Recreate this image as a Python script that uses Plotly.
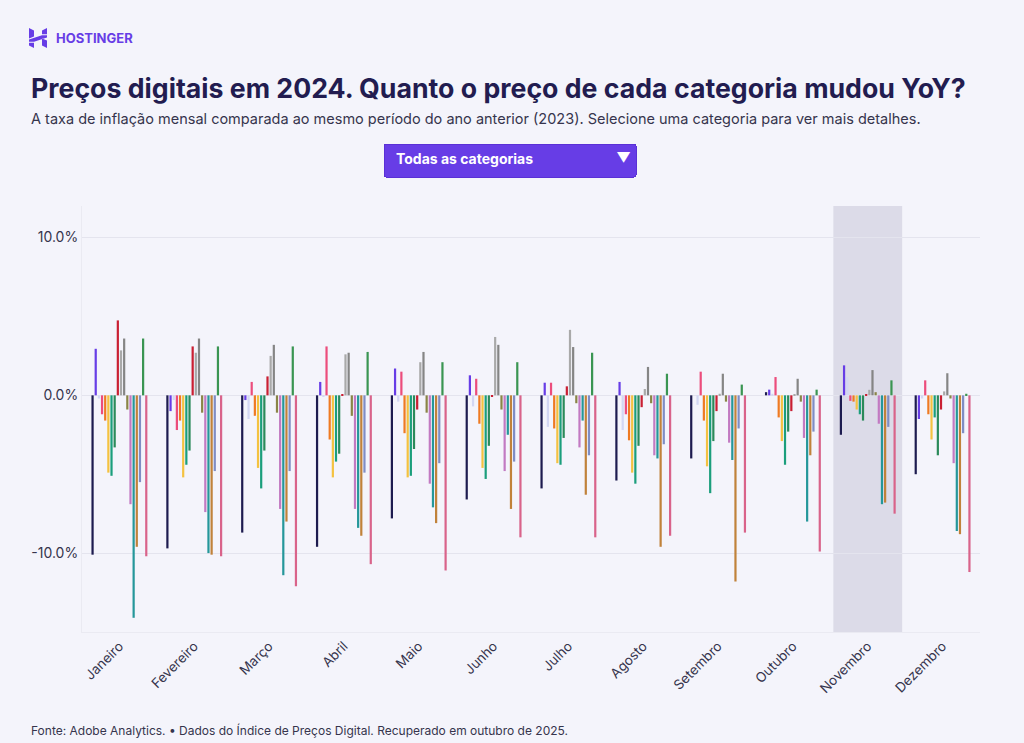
import plotly.graph_objects as go

# months on the x axis
months = ["Janeiro", "Fevereiro", "Março", "Abril", "Maio", "Junho", "Julho",
          "Agosto", "Setembro", "Outubro", "Novembro", "Dezembro"]

# categories (in drawing order) and their colours
categories = [
    "Eletrônicos", "Computadores", "Eletrodomésticos", "Joias", "Vestuário",
    "Mantimentos", "Móveis e roupa de cama", "Ferramentas e reforma da casa",
    "Livros", "Produtos de cuidado pessoal", "Medicamentos sem receita",
    "Produtos para animais", "Artigos esportivos", "Brinquedos",
    "Flores e presentes", "Material de escritório", "Casa e jardim",
    "Equipamentos médicos",
]
colors = [
    "#1d1b4f", "#673de6", "#d3d7f3", "#ec4d7c", "#ef7a22", "#f4c240",
    "#1b9e7c", "#2b8a5a", "#c91f33", "#a9a9a9", "#858585", "#8a8446",
    "#c27ac2", "#25979a", "#c0823a", "#7f8dc4", "#3a9552", "#d9638a",
]

# YoY change in %, one list per category, Jan..Dec
eletronicos = [-10.1, -9.7, -8.7, -9.6, -7.8, -6.6, -5.9, -5.4, -4.0, 0.2, -2.5, -5.0]
computadores = [2.95, -1.0, -0.3, 0.85, 1.7, 1.27, 0.8, 0.85, 0.0, 0.36, 1.9, -1.5]
eletrodomesticos = [-0.2, -0.3, -1.5, -0.1, -0.4, -0.7, -2.0, -2.2, -0.6, 0.1, 1.15, -0.2]
joias = [-1.2, -2.2, 0.85, 3.1, 1.5, 1.05, 0.8, -1.2, 1.5, 1.16, -0.35, 0.95]
vestuario = [-1.6, -1.6, -1.3, -2.8, -2.4, -1.8, -2.1, -2.85, -1.6, -1.4, -0.4, -1.2]
mantimentos = [-4.9, -5.2, -4.6, -5.2, -5.2, -4.6, -4.3, -4.9, -4.5, -2.9, -0.9, -2.8]
moveis = [-5.1, -4.4, -5.9, -4.2, -5.1, -5.3, -4.4, -5.6, -6.2, -4.4, -1.2, -1.4]
ferramentas = [-3.3, -3.5, -3.5, -3.7, -3.4, -3.2, -2.7, -3.2, -2.9, -2.3, -1.6, -3.8]
livros = [4.75, 3.1, 1.2, 0.05, -0.9, -0.1, 0.57, -0.75, -1.0, -1.0, 0.05, -0.9]
cuidado_pessoal = [2.85, 2.7, 2.5, 2.6, 2.1, 3.7, 4.15, 0.4, 0.1, 0.05, 0.35, 0.25]
medicamentos = [3.6, 3.6, 3.2, 2.7, 2.75, 3.2, 3.06, 1.8, 1.37, 1.05, 1.6, 1.4]
animais = [-0.9, -1.1, -1.1, -1.3, -1.1, -0.9, -0.5, -0.5, -0.4, -0.4, 0.2, -0.2]
esportivos = [-6.9, -7.4, -7.2, -7.2, -5.6, -4.8, -3.3, -3.8, -3.0, -2.7, -1.8, -4.3]
brinquedos = [-14.1, -10.0, -11.4, -8.4, -7.1, -2.5, -1.6, -4.0, -4.1, -8.0, -6.9, -8.6]
flores = [-9.6, -10.1, -8.0, -8.9, -8.1, -7.2, -6.3, -9.6, -11.8, -3.8, -6.8, -8.8]
escritorio = [-5.5, -4.8, -4.8, -4.9, -4.3, -4.2, -3.8, -3.1, -2.1, -2.3, -2.0, -2.4]
casa_jardim = [3.6, 3.1, 3.1, 2.75, 2.1, 2.1, 2.7, 1.37, 0.68, 0.36, 0.95, 0.1]
equip_medicos = [-10.2, -10.2, -12.1, -10.7, -11.1, -9.0, -9.0, -8.9, -8.7, -9.9, -7.5, -11.2]

series = [eletronicos, computadores, eletrodomesticos, joias, vestuario,
          mantimentos, moveis, ferramentas, livros, cuidado_pessoal,
          medicamentos, animais, esportivos, brinquedos, flores, escritorio,
          casa_jardim, equip_medicos]

# y axis ticks
y_ticks = [-10, 0, 10]
y_tick_labels = ["-10.0%", "0.0%", "10.0%"]

highlight_month = "Novembro"

W, H = 1024, 743
ML, MR, MT, MB = 82, 44, 206, 111
PURPLE = "#673de6"
DARK = "#221c50"
TEXT = "#36344d"
BG = "#f4f4fb"
FONT = "Inter"


def px_x(px):
    return (px - ML) / (W - ML - MR)


def px_y(py):
    return (H - MB - py) / (H - MT - MB)


fig = go.Figure()
for name, vals, col in zip(categories, series, colors):
    fig.add_trace(go.Bar(
        x=months, y=vals, name=name, marker_color=col, marker_line_width=0,
        hovertemplate="%{x}<br>" + name + ": %{y:.1f}%<extra></extra>",
    ))

# dropdown: all categories or a single one
n = len(categories)
buttons = [dict(label="Todas as categorias", method="restyle",
                args=[{"visible": [True] * n}])]
for i, name in enumerate(categories):
    buttons.append(dict(label=name, method="restyle",
                        args=[{"visible": [j == i for j in range(n)]}]))

hi = months.index(highlight_month)

# Hostinger logo (pixel path relative to its top-left corner)
logo_path = ("M0,0 L5,-2.6 L5,-8.4 L0,-10.6 Z "
             "M13,-2.4 L18,0 L18,-6.2 L13,-6.2 Z "
             "M0,-11.6 L13,-7.2 L18,-7.2 L18,-9.4 L5,-13.8 L0,-13.8 Z "
             "M0,-14.8 L5,-14.8 L5,-20 L0,-17.6 Z "
             "M13,-10.4 L18,-12.6 L18,-20 L13,-17.6 Z")

fig.update_layout(
    width=W, height=H,
    margin=dict(l=ML, r=MR, t=MT, b=MB),
    paper_bgcolor=BG, plot_bgcolor=BG,
    font=dict(family=FONT, color=TEXT, size=13),
    barmode="group", bargap=0.24, bargroupgap=0.3,
    showlegend=False, hovermode="closest",
    xaxis=dict(
        tickangle=-45, tickfont=dict(size=13.5, color=TEXT),
        showgrid=False, showline=True, linecolor="#eaeaf2", ticks="",
        range=[-0.5, len(months) - 0.5],
    ),
    yaxis=dict(
        range=[-15, 12], tickvals=y_ticks, ticktext=y_tick_labels,
        tickfont=dict(size=14, color=TEXT), gridcolor="#e4e4ee", gridwidth=1,
        zeroline=True, zerolinecolor="#e4e4ee", zerolinewidth=1,
        showline=True, linecolor="#eaeaf2",
    ),
    shapes=[
        dict(type="rect", xref="x", yref="paper", x0=hi - 0.46, x1=hi + 0.46,
             y0=0, y1=1, fillcolor="#dcdbe8", line_width=0, layer="below"),
        dict(type="path", xref="paper", yref="paper", xsizemode="pixel",
             ysizemode="pixel", xanchor=px_x(29), yanchor=px_y(28),
             path=logo_path, fillcolor=PURPLE, line_width=0),
    ],
    annotations=[
        dict(text="<b>HOSTINGER</b>", xref="paper", yref="paper",
             x=px_x(54), y=px_y(38), xanchor="left", yanchor="middle",
             showarrow=False, font=dict(size=13, color=PURPLE, family=FONT)),
        dict(text="<b>Preços digitais em 2024. Quanto o preço de cada categoria mudou YoY?</b>",
             xref="paper", yref="paper", x=px_x(29), y=px_y(88),
             xanchor="left", yanchor="middle", showarrow=False,
             font=dict(size=26.7, color=DARK, family=FONT)),
        dict(text="A taxa de inflação mensal comparada ao mesmo período do ano anterior (2023). "
                  "Selecione uma categoria para ver mais detalhes.",
             xref="paper", yref="paper", x=px_x(29), y=px_y(119),
             xanchor="left", yanchor="middle", showarrow=False,
             font=dict(size=14.5, color=TEXT, family=FONT)),
        dict(text="Fonte: Adobe Analytics. • Dados do Índice de Preços Digital. "
                  "Recuperado em outubro de 2025.",
             xref="paper", yref="paper", x=px_x(29), y=px_y(730),
             xanchor="left", yanchor="middle", showarrow=False,
             font=dict(size=12, color=TEXT, family=FONT)),
    ],
    updatemenus=[dict(
        type="dropdown", direction="down", active=0, showactive=True,
        x=px_x(383), xanchor="left", y=px_y(143), yanchor="top",
        pad=dict(t=0, b=0, l=0, r=0),
        bgcolor=PURPLE, bordercolor="#5a30d6", borderwidth=1,
        font=dict(size=14, color="white", family=FONT, weight=700),
        buttons=buttons,
    )],
)

fig.write_html("out.html", config={"displayModeBar": False},
               post_script="document.body.style.margin='0';")
